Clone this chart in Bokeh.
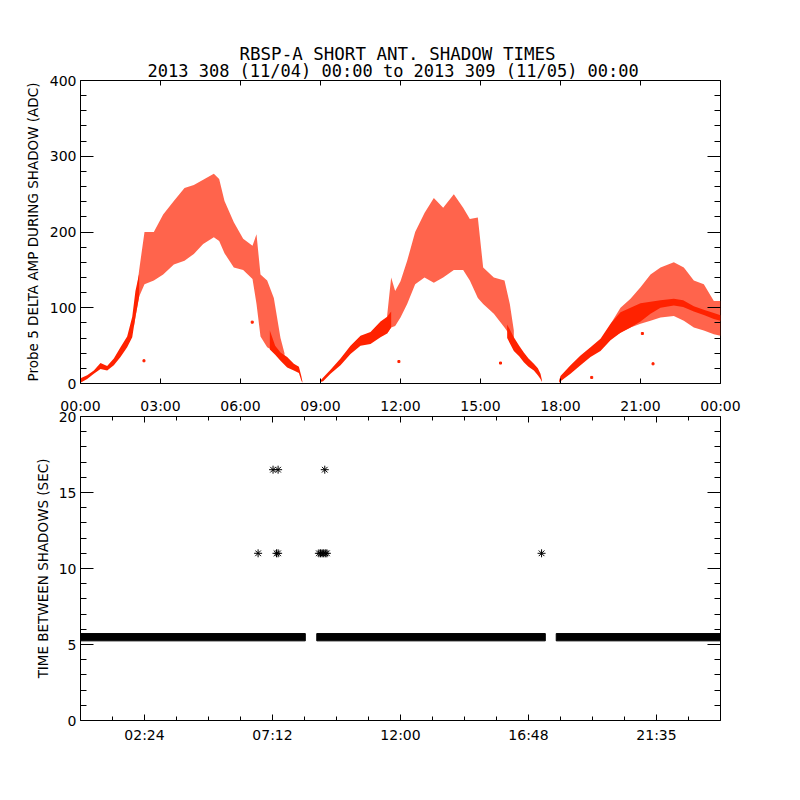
from bokeh.plotting import figure
from bokeh.models import Range1d, LinearAxis, FixedTicker, Title
from bokeh.layouts import column
from bokeh.embed import file_html
from bokeh.resources import INLINE

FONT = "DejaVu Sans"
TFONT = "DejaVu Sans Mono"
RED = "#ff2200"

# ---------------- texts ----------------
title_line1 = "RBSP-A SHORT ANT. SHADOW TIMES"
title_line2 = "2013 308 (11/04) 00:00 to 2013 309 (11/05) 00:00"
top_ylabel = "Probe 5 DELTA AMP DURING SHADOW (ADC)"
bot_ylabel = "TIME BETWEEN SHADOWS (SEC)"

# ---------------- tick labels ----------------
top_xticks = [0, 3, 6, 9, 12, 15, 18, 21, 24]
top_xlabels = ["00:00", "03:00", "06:00", "09:00", "12:00", "15:00", "18:00", "21:00", "00:00"]
bot_xticks = [2.4, 7.2, 12.0, 16.8, 21.6]
bot_xlabels = ["02:24", "07:12", "12:00", "16:48", "21:35"]

# ---------------- top panel: delta amplitude clouds (hours, ADC) ----------------
# arc 1 dense rising band
a1d_h = [0.0, 0.25, 0.5, 0.75, 1.0, 1.25, 1.5, 1.75, 1.94, 2.06, 2.2]
a1d_lo = [1, 6, 13, 19, 17, 24, 35, 48, 61, 88, 115]
a1d_hi = [7, 11, 17, 27, 23, 33, 48, 62, 88, 122, 145]
# arc 1 sparse cloud
a1s_h = [2.0, 2.2, 2.4, 2.75, 3.1, 3.5, 3.9, 4.25, 4.6, 5.0, 5.2, 5.4, 5.75, 6.1, 6.45, 6.6, 6.75, 7.0, 7.25, 7.5, 7.65]
a1s_lo = [75, 115, 131, 136, 144, 157, 162, 171, 184, 193, 188, 172, 153, 150, 138, 105, 62, 48, 43, 40, 36]
a1s_hi = [92, 150, 200, 200, 223, 241, 258, 262, 269, 277, 270, 241, 213, 191, 182, 197, 144, 136, 113, 60, 40]
# arc 1 dense falling band
a1r_h = [7.1, 7.3, 7.5, 7.75, 8.0, 8.19, 8.28, 8.32]
a1r_lo = [45, 38, 30, 21, 17, 14, 4, 1]
a1r_hi = [70, 50, 41, 35, 26, 22, 10, 3]

# arc 2 dense rising band
a2d_h = [9.0, 9.1, 9.375, 9.75, 10.125, 10.5, 10.875, 11.25, 11.5, 11.65]
a2d_lo = [2, 3, 13, 24, 39, 50, 52, 61, 66, 74]
a2d_hi = [4, 8, 18, 33, 50, 63, 68, 82, 88, 95]
# arc 2 sparse cloud
a2s_h = [11.5, 11.65, 11.8, 12.0, 12.25, 12.55, 12.9, 13.25, 13.6, 14.0, 14.35, 14.6, 14.9, 15.1, 15.5, 15.9, 16.1, 16.25]
a2s_lo = [66, 74, 76, 87, 105, 131, 140, 133, 140, 150, 150, 136, 113, 105, 92, 74, 64, 52]
a2s_hi = [90, 140, 122, 135, 162, 200, 225, 245, 232, 250, 232, 217, 219, 153, 140, 136, 105, 70]
# arc 2 dense falling band
a2r_h = [16.0, 16.25, 16.45, 16.625, 16.8, 17.0, 17.15, 17.25, 17.3]
a2r_lo = [60, 43, 36, 28, 22, 17, 11, 6, 2]
a2r_hi = [78, 61, 50, 41, 33, 26, 20, 13, 5]

# arc 3 dense band
a3d_h = [17.95, 18.0, 18.375, 18.75, 19.125, 19.5, 19.875, 20.25, 20.625, 21.0, 21.375, 21.75, 22.25, 22.6, 23.0, 23.4, 23.75, 24.0]
a3d_lo = [1, 3, 13, 24, 35, 43, 57, 67, 74, 82, 92, 100, 103, 101, 95, 90, 85, 83]
a3d_hi = [4, 10, 24, 37, 48, 59, 79, 94, 100, 106, 108, 110, 112, 110, 102, 97, 93, 90]
# arc 3 sparse cloud
a3s_h = [19.9, 20.25, 20.625, 21.0, 21.375, 21.75, 22.25, 22.625, 23.0, 23.375, 23.75, 24.0]
a3s_lo = [60, 67, 74, 79, 83, 87, 89, 83, 74, 70, 65, 63]
a3s_hi = [80, 100, 112, 127, 144, 153, 160, 153, 136, 131, 109, 109]

# isolated points
stray_h = [2.38, 6.44, 11.94, 15.75, 19.17, 21.07, 21.47]
stray_v = [30, 81, 29, 27, 8, 66, 26]

# ---------------- bottom panel: time between shadows (hours, sec) ----------------
band_start = [0.0, 8.86, 17.84]
band_end = [8.43, 17.43, 24.0]
band_value = [5.48, 5.48, 5.48]
out_h = [6.66, 7.22, 7.41, 7.35, 7.41, 8.94, 9.00, 9.06, 9.12, 9.18, 9.24, 9.16, 17.29]
out_v = [11, 16.5, 16.5, 11, 11, 11, 11, 11, 11, 11, 11, 16.5, 11]


def tick_axis(ticks, minor, tick_in, minor_in, labels=None, show=True, standoff=None):
    ax = LinearAxis(ticker=FixedTicker(ticks=ticks, minor_ticks=minor))
    ax.axis_line_color = None
    ax.major_tick_in = tick_in
    ax.major_tick_out = 0
    ax.minor_tick_in = minor_in
    ax.minor_tick_out = 0
    ax.major_tick_line_color = "black" if tick_in > 0 else None
    ax.minor_tick_line_color = "black" if minor_in > 0 else None
    if show:
        ax.major_label_text_font = FONT
        ax.major_label_text_font_size = "14px"
        ax.major_label_text_color = "black"
        ax.major_label_standoff = 4 if standoff is None else standoff
        if labels is not None:
            ax.major_label_overrides = labels
    else:
        ax.major_label_text_font_size = "1px"
        ax.major_label_text_color = None
        ax.major_label_standoff = 0 if standoff is None else standoff
    return ax


def spacer_axis(size):
    # an axis with no ticks and invisible outward tick length: reserves `size` px
    ax = LinearAxis(ticker=FixedTicker(ticks=[], minor_ticks=[]))
    ax.axis_line_color = None
    ax.major_tick_in = 0
    ax.major_tick_out = size
    ax.minor_tick_in = 0
    ax.minor_tick_out = 0
    ax.major_tick_line_color = None
    ax.minor_tick_line_color = None
    ax.major_label_text_font_size = "1px"
    ax.major_label_text_color = None
    ax.major_label_standoff = 0
    return ax


def base_fig(height, yr, top, bottom):
    p = figure(width=790, height=height, x_range=Range1d(0, 24), y_range=Range1d(*yr),
               output_backend="svg", toolbar_location=None, title=None,
               x_axis_location=None, y_axis_location=None,
               min_border_left=80, min_border_right=70,
               min_border_top=top, min_border_bottom=bottom)
    p.grid.visible = False
    p.outline_line_color = "black"
    p.outline_line_width = 1
    p.background_fill_color = "white"
    p.border_fill_color = "white"
    return p


def style_ylabel(ax, text, standoff):
    ax.axis_label = text
    ax.axis_label_text_font = FONT
    ax.axis_label_text_font_size = "13.5px"
    ax.axis_label_text_font_style = "normal"
    ax.axis_label_text_color = "black"
    ax.axis_label_standoff = standoff


# ================= top figure =================
p1 = base_fig(391, (0, 400), 80, 8)
top_minor_y = [v for v in range(0, 401, 20) if v % 100]
top_yticks = [0, 100, 200, 300, 400]
xlab1 = {t: l for t, l in zip(top_xticks, top_xlabels)}

p1.add_layout(tick_axis(top_xticks, [], 5, 0, show=False), "below")
p1.add_layout(tick_axis(top_xticks, [], 5, 0, show=False), "above")
p1.add_layout(spacer_axis(13), "above")
ax = tick_axis(top_yticks, top_minor_y, 13, 6)
style_ylabel(ax, top_ylabel, 6)
p1.add_layout(ax, "left")
p1.add_layout(tick_axis(top_yticks, top_minor_y, 13, 6, show=False), "right")

p1.add_layout(Title(text=title_line2, align="left", vertical_align="bottom", offset=67,
                    text_font=TFONT, text_font_size="17px",
                    text_font_style="normal", text_color="black", standoff=0), "above")
p1.add_layout(Title(text=title_line1, align="left", vertical_align="bottom", offset=159,
                    text_font=TFONT, text_font_size="17.5px",
                    text_font_style="normal", text_color="black", standoff=-10), "above")

for hh, lo, hi in [(a1s_h, a1s_lo, a1s_hi), (a2s_h, a2s_lo, a2s_hi), (a3s_h, a3s_lo, a3s_hi)]:
    p1.varea(x=hh, y1=lo, y2=hi, fill_color=RED, fill_alpha=0.7)
for hh, lo, hi in [(a1d_h, a1d_lo, a1d_hi), (a1r_h, a1r_lo, a1r_hi), (a2d_h, a2d_lo, a2d_hi),
                   (a2r_h, a2r_lo, a2r_hi), (a3d_h, a3d_lo, a3d_hi)]:
    p1.varea(x=hh, y1=lo, y2=hi, fill_color=RED, fill_alpha=1.0)
p1.scatter(stray_h, stray_v, marker="square", size=2, color=RED)

# ================= bottom figure =================
p2 = base_fig(369, (0, 20), 25, 40)
bot_minor_x = [round(1.2 * k, 2) for k in range(0, 21) if k % 4 != 2]
bot_minor_y = [v for v in range(0, 21) if v % 5]
bot_yticks = [0, 5, 10, 15, 20]
xlab2 = {t: l for t, l in zip(bot_xticks, bot_xlabels)}

p2.add_layout(tick_axis(bot_xticks, bot_minor_x, 6, 4, xlab2, True, 6), "below")
# top: tick marks of this panel, then the time labels of the upper panel
p2.add_layout(tick_axis(bot_xticks, bot_minor_x, 6, 4, show=False), "above")
p2.add_layout(tick_axis(top_xticks, [], 0, 0, xlab1, True, 3), "above")
ax = tick_axis(bot_yticks, bot_minor_y, 13, 6)
style_ylabel(ax, bot_ylabel, 5)
p2.add_layout(ax, "left")
p2.add_layout(tick_axis(bot_yticks, bot_minor_y, 13, 6, show=False), "right")

p2.hbar(y=band_value, left=band_start, right=band_end, height=0.48, fill_color="black", line_color="black")
p2.scatter(out_h, out_v, marker="asterisk", size=8, line_color="black", line_width=1)

layout = column(p1, p2)
open("out.html", "w").write(file_html(layout, INLINE))
